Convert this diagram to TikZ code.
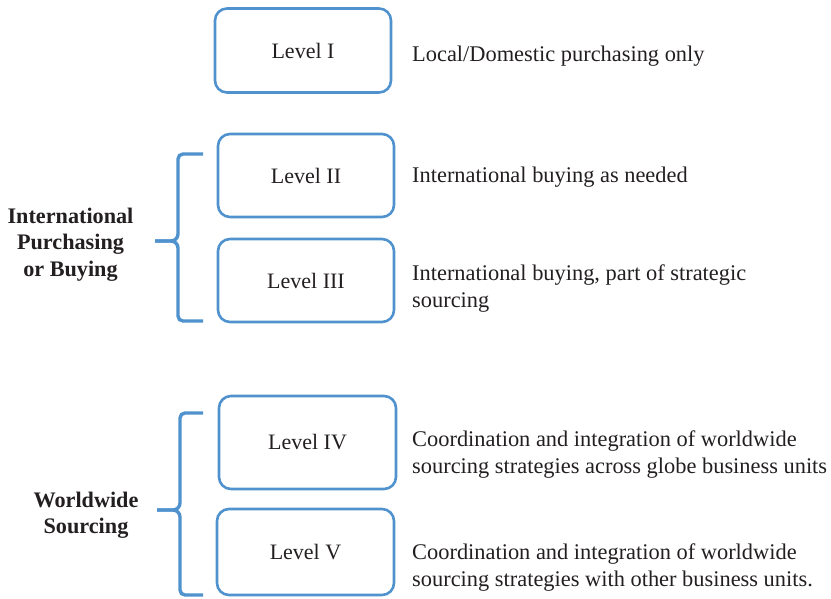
\documentclass[tikz,border=0pt]{standalone}
\usepackage{fontspec}
\setmainfont{Liberation Serif}
\definecolor{boxblue}{RGB}{80,146,205}
\definecolor{inkgray}{RGB}{35,31,32}
\begin{document}
\begin{tikzpicture}[x=1pt,y=-1pt,
  levelbox/.style={draw=boxblue, line width=2.6pt, rounded corners=12pt,
    minimum width=176pt, text=inkgray,
    font=\fontsize{22pt}{27pt}\selectfont},
  desc/.style={anchor=west, align=left, inner sep=0pt, text=inkgray,
    font=\fontsize{22.4pt}{27pt}\selectfont},
  group/.style={align=center, inner sep=0pt, text=inkgray,
    font=\bfseries\fontsize{22.2pt}{26.5pt}\selectfont},
  bracket/.style={draw=boxblue, line width=3.4pt}]
\useasboundingbox (0,0) rectangle (831,598);

% level boxes
\node[levelbox, minimum height=84pt] (l1) at (303,50.5) {Level I};
\node[levelbox, minimum height=83pt] (l2) at (306,175.5) {Level II};
\node[levelbox, minimum height=83pt] (l3) at (306,280.5) {Level III};
\node[levelbox, minimum height=93pt, minimum width=177pt] (l4) at (307.5,442.5) {Level IV};
\node[levelbox, minimum height=86pt, minimum width=177pt] (l5) at (305.5,552) {Level V};

% descriptions
\node[desc] (d1) at (412,56) {Local/Domestic purchasing only};
\node[desc] (d2) at (412,177.5) {International buying as needed};
\node[desc] (d3) at (412,288.5) {International buying, part of strategic\\sourcing};
\node[desc] (d4) at (412,454.5) {Coordination and integration of worldwide\\sourcing strategies across globe business units};
\node[desc] (d5) at (412,567.5) {Coordination and integration of worldwide\\sourcing strategies with other business units.};

% group labels
\node[group] (g1) at (70.5,244.5) {International\\Purchasing\\or Buying};
\node[group] (g2) at (86,515) {Worldwide\\Sourcing};

% brackets
\draw[bracket] (203,154) -- (183,154) to[out=180,in=90] (178,159) -- (178,234)
  to[out=-90,in=0] (171,241) -- (155,241);
\draw[bracket] (155,241) -- (171,241) to[out=0,in=90] (178,248) -- (178,316)
  to[out=-90,in=180] (183,321) -- (203,321);
\draw[bracket] (203,413) -- (185,413) to[out=180,in=90] (180,418) -- (180,503)
  to[out=-90,in=0] (173,510) -- (157,510);
\draw[bracket] (157,510) -- (173,510) to[out=0,in=90] (180,517) -- (180,590)
  to[out=-90,in=180] (185,595) -- (203,595);
\end{tikzpicture}
\end{document}
